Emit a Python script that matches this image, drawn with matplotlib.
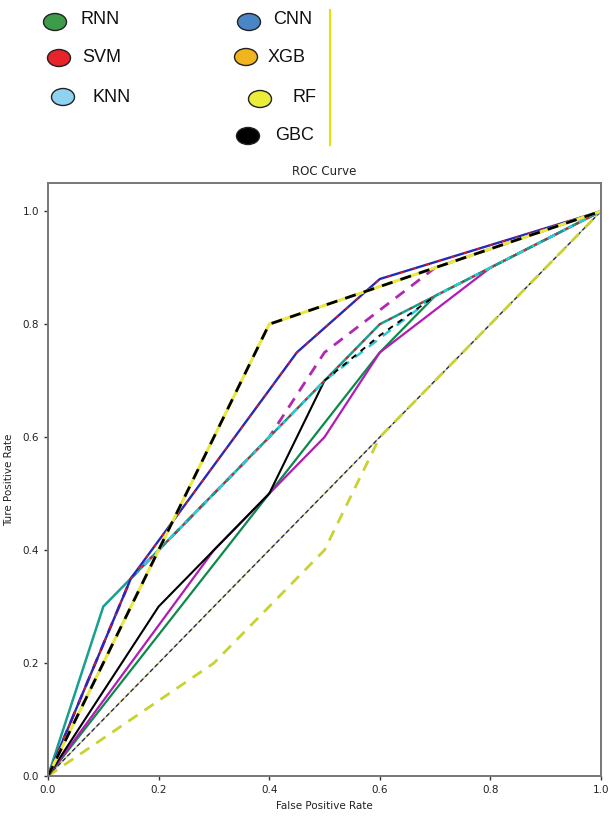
import matplotlib
matplotlib.use("Agg")
import matplotlib.pyplot as plt
from matplotlib.patches import Ellipse

# ---------------- data ----------------
legend_names = ["RNN", "SVM", "KNN", "CNN", "XGB", "RF", "GBC"]
legend_colors = ["#3c9c4a", "#e8232a", "#8fd3f0", "#4a86c6", "#f2b41e", "#ecec3a", "#000000"]

gbc_x = [0.0, 0.2, 0.4, 1.0]
gbc_y = [0.0, 0.4, 0.8, 1.0]

cnn_x = [0.0, 0.15, 0.45, 0.6, 1.0]
cnn_y = [0.0, 0.35, 0.75, 0.88, 1.0]

teal_x = [0.0, 0.1, 0.15, 0.2, 0.4, 0.5, 0.6, 0.7, 1.0]
teal_y = [0.0, 0.3, 0.35, 0.4, 0.6, 0.7, 0.8, 0.85, 1.0]

magd_x = [0.0, 0.15, 0.2, 0.4, 0.5, 0.7, 1.0]
magd_y = [0.0, 0.35, 0.4, 0.6, 0.75, 0.9, 1.0]

svm_x = [0.0, 0.15, 0.2, 0.4, 0.5, 0.6, 0.7, 1.0]
svm_y = [0.0, 0.35, 0.4, 0.6, 0.7, 0.8, 0.85, 1.0]

knn_x = [0.15, 0.2, 0.4, 0.5, 0.7, 1.0]
knn_y = [0.35, 0.4, 0.6, 0.7, 0.85, 1.0]

blk_x = [0.0, 0.2, 0.3, 0.4, 0.5]
blk_y = [0.0, 0.3, 0.4, 0.5, 0.7]
blkd_x = [0.5, 0.6, 0.7]
blkd_y = [0.7, 0.78, 0.85]

mag_x = [0.0, 0.3, 0.4, 0.5, 0.6, 0.8, 1.0]
mag_y = [0.0, 0.4, 0.5, 0.6, 0.75, 0.9, 1.0]

grn_x = [0.0, 0.4, 0.6, 0.7, 1.0]
grn_y = [0.0, 0.5, 0.75, 0.85, 1.0]

rf_x = [0.0, 0.3, 0.5, 0.6, 1.0]
rf_y = [0.0, 0.2, 0.4, 0.6, 1.0]

diag_x = [0.0, 1.0]
diag_y = [0.0, 1.0]

xticks = [0.0, 0.2, 0.4, 0.6, 0.8, 1.0]
yticks = [0.0, 0.2, 0.4, 0.6, 0.8, 1.0]

# ---------------- figure ----------------
W, H = 609, 819
fig = plt.figure(figsize=(W / 100, H / 100), dpi=100)

# legend area (pixel coordinates)
lax = fig.add_axes([0, 0, 1, 1])
lax.set_xlim(0, W)
lax.set_ylim(H, 0)
lax.axis("off")

leg_ell = [(55, 22), (59, 58), (63, 97), (249, 22), (246, 57), (260, 99), (248, 136)]
leg_txt = [(80, 19), (82, 58), (93, 97), (273, 20), (268, 58), (293, 97), (275, 136)]
for name, col, (ex, ey), (tx, ty) in zip(legend_names, legend_colors, leg_ell, leg_txt):
    lax.add_patch(Ellipse((ex, ey), 23, 17, facecolor=col, edgecolor="#222222", lw=1.0))
    lax.text(tx, ty, name, fontsize=13, family="Liberation Sans", va="center", ha="left",
             color="#111111")
lax.plot([330, 330], [10, 145], color="#e8e000", lw=1.5)

# main axes
ax = fig.add_axes([48 / W, 1 - 776 / H, 553 / W, 593 / H])
ax.set_xlim(0, 1)
ax.set_ylim(0, 1.05)

ax.plot(diag_x, diag_y, color="#c8c870", lw=1.0)
ax.plot(diag_x, diag_y, color="#2a2a60", lw=1.0, ls=(0, (3, 2)))
ax.plot(rf_x, rf_y, color="#c8d232", lw=2.0, ls=(0, (4, 3)))
ax.plot(grn_x, grn_y, color="#0b8a4a", lw=1.6)
ax.plot(mag_x, mag_y, color="#b21cb2", lw=1.6)
ax.plot(blk_x, blk_y, color="#000000", lw=1.5)
ax.plot(magd_x, magd_y, color="#b02ab0", lw=2.0, ls=(0, (4, 3)))
ax.plot(teal_x, teal_y, color="#16a090", lw=1.8)
ax.plot(knn_x, knn_y, color="#30c8d8", lw=1.8, ls=(0, (4, 3)))
ax.plot(svm_x, svm_y, color="#e01818", lw=1.2, ls=(2, (2, 5)))
ax.plot(blkd_x, blkd_y, color="#000000", lw=1.4, ls=(0, (3, 3)))
ax.plot(cnn_x, cnn_y, color="#2828b8", lw=1.7)
ax.plot(cnn_x, cnn_y, color="#e01818", lw=1.2, ls=(0, (2, 6)))
ax.plot(gbc_x, gbc_y, color="#e8e840", lw=2.2)
ax.plot(gbc_x, gbc_y, color="#000000", lw=2.0, ls=(0, (4, 3)))

ax.set_xticks(xticks)
ax.set_yticks(yticks)
ax.set_xticklabels([f"{t:.1f}" for t in xticks])
ax.set_yticklabels([f"{t:.1f}" for t in yticks])
ax.tick_params(labelsize=7.5, colors="#333333", length=3, width=1, labelcolor="#222222")
for s in ax.spines.values():
    s.set_color("#777777")
    s.set_linewidth(1.4)

ax.set_title("ROC Curve", fontsize=8.5, color="#222222", pad=6)
ax.set_xlabel("False Positive Rate", fontsize=7.5, color="#222222", labelpad=4)
ax.set_ylabel("Ture Positive Rate", fontsize=7.5, color="#222222", labelpad=6)

fig.savefig("out.png", dpi=100)
